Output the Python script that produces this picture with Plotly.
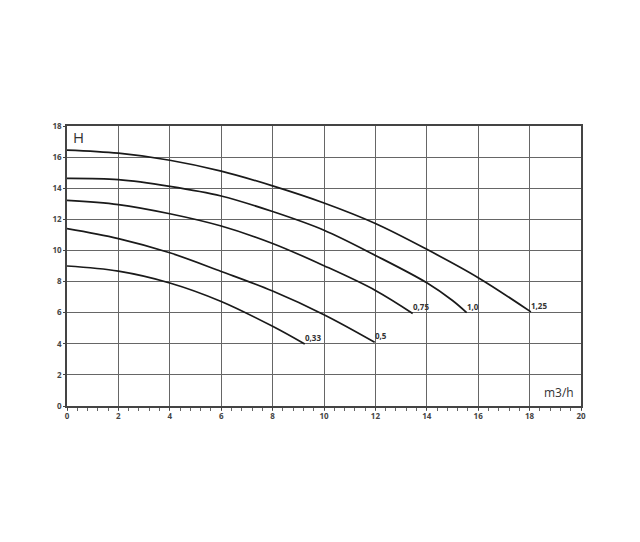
import plotly.graph_objects as go

# pump curves: flow (m3/h) vs head H, one per motor size
labels = ["0,33", "0,5", "0,75", "1,0", "1,25"]

q_033 = [0, 2, 4, 6, 8, 9.25]
h_033 = [9.0, 8.67, 7.91, 6.72, 5.12, 3.98]

q_050 = [0, 2, 4, 6, 8, 10, 11.97]
h_050 = [11.4, 10.76, 9.85, 8.65, 7.39, 5.87, 4.1]

q_075 = [0, 2, 4, 6, 8, 10, 12, 13.45]
h_075 = [13.22, 12.95, 12.36, 11.57, 10.45, 9.02, 7.43, 5.95]

q_100 = [0, 2, 4, 6, 8, 10, 12, 14, 15, 15.55]
h_100 = [14.63, 14.55, 14.12, 13.5, 12.5, 11.3, 9.68, 7.92, 6.78, 6.0]

q_125 = [0, 2, 4, 6, 8, 10, 12, 14, 16, 18.05]
h_125 = [16.45, 16.25, 15.8, 15.1, 14.15, 13.05, 11.73, 10.07, 8.25, 6.05]

x_ticks = list(range(0, 21, 2))
y_ticks = list(range(0, 19, 2))

curves = [(q_033, h_033), (q_050, h_050), (q_075, h_075), (q_100, h_100), (q_125, h_125)]

fig = go.Figure()

for name, (q, h) in zip(labels, curves):
    fig.add_trace(go.Scatter(
        x=q, y=h, name=name, mode='lines',
        line=dict(color='#1a1a1a', width=1.7, shape='spline', smoothing=1.0),
        showlegend=False, hoverinfo='skip'
    ))
    # curve label at the end point
    fig.add_annotation(
        x=q[-1], y=h[-1], text=name, showarrow=False,
        xanchor='left', yanchor='bottom', xshift=-2, yshift=-1,
        font=dict(family='Open Sans', size=8, color='#333333', weight='bold')
    )

fig.add_annotation(x=0.15, y=18, text="H", showarrow=False,
                   xanchor='left', yanchor='top', yshift=1,
                   font=dict(family='Open Sans', size=15, color='#333333'))
fig.add_annotation(x=19.8, y=0.2, text="m3/h", showarrow=False,
                   xanchor='right', yanchor='bottom',
                   font=dict(family='Open Sans', size=12, color='#333333'))

axis_font = dict(family='Open Sans', size=8, color='#444444', weight='bold')

# page body adds 8px, so margins are pulled back by that much
fig.update_layout(
    width=640, height=542,
    margin=dict(l=59, r=67, t=118, b=144),
    plot_bgcolor='white',
    paper_bgcolor='white',
    xaxis=dict(
        range=[0, 20], tickvals=x_ticks, showgrid=True,
        gridcolor='#666666', gridwidth=1.3,
        showline=True, linecolor='#444444', linewidth=1.5, mirror=True,
        ticks='outside', ticklen=2, tickcolor='#444444',
        minor=dict(dtick=0.4, ticks='outside', ticklen=3, tickcolor='#666666', showgrid=False),
        tickfont=axis_font, zeroline=False, fixedrange=True
    ),
    yaxis=dict(
        range=[0, 18], tickvals=y_ticks, showgrid=True,
        gridcolor='#666666', gridwidth=1.3,
        showline=True, linecolor='#444444', linewidth=1.5, mirror=True,
        ticks='outside', ticklen=2, tickcolor='#444444',
        tickfont=axis_font, zeroline=False, fixedrange=True
    ),
)

fig.write_html("out.html")
